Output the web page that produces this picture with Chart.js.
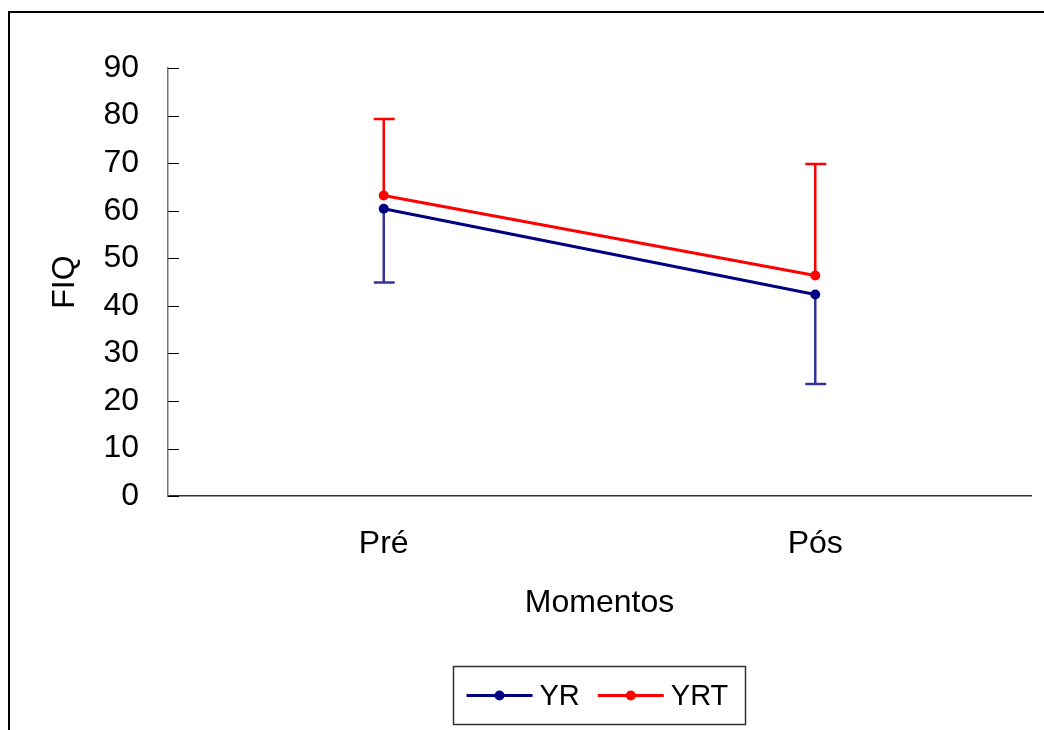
<!DOCTYPE html>
<html>
<head>
<meta charset="utf-8">
<script src="https://cdn.jsdelivr.net/npm/chart.js@4"></script>
<style>
  html, body { margin: 0; padding: 0; background: #fff; }
  #wrap { width: 1044px; height: 730px; position: relative; }
</style>
</head>
<body>
<div id="wrap"><canvas id="fiqChart"></canvas></div>
<script>
const categories = ['Pré', 'Pós'];
const yrMean = [60.4, 42.4];
const yrErrDown = [15.5, 18.8];
const yrtMean = [63.2, 46.4];
const yrtErrUp = [16.1, 23.4];
const yTicks = [0, 10, 20, 30, 40, 50, 60, 70, 80, 90];

const FONT = "'Liberation Sans', Arial, sans-serif";

// frame round the whole picture (only top and left are visible)
const framePlugin = {
  id: 'frame',
  beforeDraw(chart) {
    const ctx = chart.ctx;
    ctx.save();
    ctx.strokeStyle = '#000';
    ctx.lineWidth = 2;
    ctx.beginPath();
    ctx.moveTo(chart.width, 12);
    ctx.lineTo(9, 12);
    ctx.lineTo(9, chart.height);
    ctx.stroke();
    ctx.restore();
  }
};

// one-sided error bars: YR downwards, YRT upwards
const errorBarPlugin = {
  id: 'errorBars',
  beforeDatasetsDraw(chart) {
    const ctx = chart.ctx;
    const y = chart.scales.y;
    chart.data.datasets.forEach((ds, di) => {
      const meta = chart.getDatasetMeta(di);
      ds.errors.forEach((err, i) => {
        const pt = meta.data[i];
        const end = y.getPixelForValue(ds.data[i] + ds.errDir * err);
        ctx.save();
        ctx.strokeStyle = ds.errColor;
        ctx.lineWidth = 2.5;
        ctx.beginPath();
        ctx.moveTo(pt.x, pt.y);
        ctx.lineTo(pt.x, end);
        ctx.moveTo(pt.x - 10, end);
        ctx.lineTo(pt.x + 11, end);
        ctx.stroke();
        ctx.restore();
      });
    });
  }
};

// tick marks drawn on the inside of the y axis
const innerTicksPlugin = {
  id: 'innerTicks',
  afterDraw(chart) {
    const ctx = chart.ctx;
    const s = chart.scales.y;
    ctx.save();
    ctx.strokeStyle = '#000';
    ctx.lineWidth = 1;
    s.ticks.forEach((t, i) => {
      const py = Math.round(s.getPixelForTick(i)) + 0.5;
      ctx.beginPath();
      ctx.moveTo(chart.chartArea.left, py);
      ctx.lineTo(chart.chartArea.left + 11, py);
      ctx.stroke();
    });
    ctx.restore();
  }
};

// boxed legend under the axis title
const boxLegendPlugin = {
  id: 'boxLegend',
  afterDraw(chart) {
    const ctx = chart.ctx;
    const area = chart.chartArea;
    const boxW = 292, boxH = 58;
    const left = Math.round((area.left + area.right) / 2 - boxW / 2) + 0.5;
    const top = chart.height - 64 + 0.5;
    ctx.save();
    ctx.strokeStyle = '#333';
    ctx.lineWidth = 1.5;
    ctx.strokeRect(left, top, boxW, boxH);
    ctx.font = '29px ' + FONT;
    ctx.textBaseline = 'middle';
    ctx.fillStyle = '#000';
    const cy = top + boxH / 2;
    let x = left + 13;
    chart.data.datasets.forEach(ds => {
      ctx.strokeStyle = ds.borderColor;
      ctx.lineWidth = 3;
      ctx.beginPath();
      ctx.moveTo(x, cy);
      ctx.lineTo(x + 66, cy);
      ctx.stroke();
      ctx.fillStyle = ds.borderColor;
      ctx.beginPath();
      ctx.arc(x + 33, cy, 5, 0, Math.PI * 2);
      ctx.fill();
      x += 73;
      ctx.fillStyle = '#000';
      ctx.fillText(ds.label, x, cy + 1);
      x += ctx.measureText(ds.label).width + 18;
    });
    ctx.restore();
  }
};

new Chart(document.getElementById('fiqChart'), {
  type: 'line',
  data: {
    labels: categories,
    datasets: [
      { label: 'YR', data: yrMean, errors: yrErrDown, errDir: -1, errColor: '#333399',
        borderColor: '#000080', backgroundColor: '#000080', borderWidth: 3,
        pointRadius: 5, pointHoverRadius: 5, pointBorderWidth: 0 },
      { label: 'YRT', data: yrtMean, errors: yrtErrUp, errDir: 1, errColor: '#ff0000',
        borderColor: '#ff0000', backgroundColor: '#ff0000', borderWidth: 3,
        pointRadius: 5, pointHoverRadius: 5, pointBorderWidth: 0 }
    ]
  },
  options: {
    responsive: true, maintainAspectRatio: false, animation: false,
    layout: { padding: { top: 68, right: 13, bottom: 108, left: 36 } },
    plugins: { legend: { display: false }, tooltip: { enabled: false } },
    scales: {
      x: {
        offset: true,
        grid: { display: false, drawTicks: false },
        border: { display: true, color: '#333', width: 1.5 },
        ticks: { color: '#000', font: { family: FONT, size: 32 }, padding: 29 },
        title: { display: true, text: 'Momentos', color: '#000', font: { family: FONT, size: 32 }, padding: { top: -9, bottom: 0 } }
      },
      y: {
        min: 0, max: 90,
        afterBuildTicks: s => { s.ticks = yTicks.map(v => ({ value: v })); },
        grid: { display: false, drawTicks: false },
        border: { display: true, color: '#777', width: 1.5 },
        ticks: { color: '#000', font: { family: FONT, size: 32 }, padding: 29 },
        title: { display: true, text: 'FIQ', color: '#000', font: { family: FONT, size: 32 }, padding: { top: 10, bottom: -10 } }
      }
    }
  },
  plugins: [framePlugin, errorBarPlugin, innerTicksPlugin, boxLegendPlugin]
});
</script>
</body>
</html>
